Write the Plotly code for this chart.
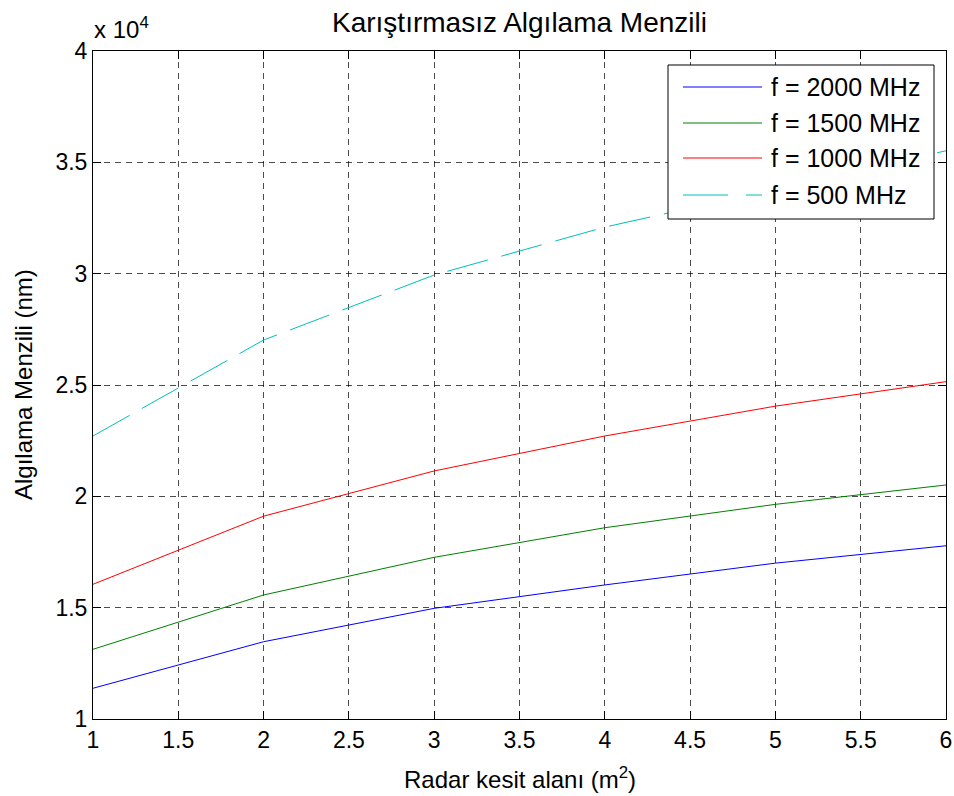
import plotly.graph_objects as go

# Radar cross-section (m^2)
rcs = [1, 2, 3, 4, 5, 6]

# Detection range (nm) for each frequency
range_2000 = [11380, 13470, 14970, 16020, 17000, 17780]
range_1500 = [13130, 15570, 17260, 18590, 19640, 20510]
range_1000 = [16050, 19110, 21140, 22710, 24050, 25150]
range_500 = [22710, 27020, 29940, 32090, 33800, 35520]

series_names = ["f = 2000 MHz", "f = 1500 MHz", "f = 1000 MHz", "f = 500 MHz"]
series_colors = ["#0000FF", "#008000", "#FF0000", "#00BFBF"]
series_dash = ["solid", "solid", "solid", "42px,14px"]
series_values = [range_2000, range_1500, range_1000, range_500]

x_ticks = [1, 1.5, 2, 2.5, 3, 3.5, 4, 4.5, 5, 5.5, 6]
y_ticks = [10000, 15000, 20000, 25000, 30000, 35000, 40000]
y_ticktext = ["1", "1.5", "2", "2.5", "3", "3.5", "4"]

FONT = "Liberation Sans, Arial, sans-serif"
W, H = 954, 796
L, R, T, B = 93, 8, 51, 77
PW, PH = W - L - R, H - T - B


def px_x(p):
    return (p - L) / PW


def px_y(p):
    return (H - B - p) / PH


fig = go.Figure()
for name, vals, col, dash in zip(series_names, series_values, series_colors, series_dash):
    fig.add_trace(go.Scatter(
        x=rcs, y=vals, mode="lines", name=name, showlegend=False,
        line=dict(color=col, width=1, dash=dash),
    ))

axis_common = dict(
    showline=True, linecolor="black", linewidth=1, mirror="ticks",
    ticks="inside", ticklen=8, tickcolor="black", tickwidth=1,
    showgrid=True, gridcolor="rgba(0,0,0,0.7)", gridwidth=1, griddash="6px,5px",
    zeroline=False, automargin=False,
    tickfont=dict(family=FONT, size=23, color="black"),
)

fig.update_xaxes(range=[1, 6], tickvals=x_ticks, ticktext=[f"{v:g}" for v in x_ticks], **axis_common)
fig.update_yaxes(range=[10000, 40000], tickvals=y_ticks, ticktext=y_ticktext, **axis_common)

# Legend box, drawn over the curves
shapes = [dict(
    type="rect", xref="paper", yref="paper",
    x0=px_x(668), x1=px_x(934), y0=px_y(219), y1=px_y(65),
    fillcolor="white", line=dict(color="black", width=1), layer="above",
)]
annotations = []
entry_y = [87, 123, 158, 195]
for name, col, dash, ey in zip(series_names, series_colors, ["solid", "solid", "solid", "45px,18px"], entry_y):
    shapes.append(dict(
        type="line", xref="paper", yref="paper",
        x0=px_x(683), x1=px_x(762), y0=px_y(ey), y1=px_y(ey),
        line=dict(color=col, width=1, dash=dash), layer="above",
    ))
    annotations.append(dict(
        text=name, xref="paper", yref="paper", x=px_x(769), y=px_y(ey),
        xanchor="left", yanchor="middle", showarrow=False,
        font=dict(family=FONT, size=25, color="black"),
    ))

# Exponent label for the y axis
annotations.append(dict(
    text="x 10<sup>4</sup>", xref="paper", yref="paper", x=px_x(92), y=px_y(28),
    xanchor="left", yanchor="middle", showarrow=False,
    font=dict(family=FONT, size=24, color="black"),
))

# Axis titles
annotations.append(dict(
    text="Radar kesit alanı (m<sup>2</sup>)", xref="paper", yref="paper",
    x=0.5, y=px_y(778), xanchor="center", yanchor="middle", showarrow=False,
    font=dict(family=FONT, size=24, color="black"),
))
annotations.append(dict(
    text="Algılama Menzili (nm)", xref="paper", yref="paper",
    x=px_x(23), y=0.5, xanchor="center", yanchor="middle", showarrow=False, textangle=-90,
    font=dict(family=FONT, size=24, color="black"),
))

fig.update_layout(
    width=W, height=H,
    margin=dict(l=L, r=R, t=T, b=B),
    paper_bgcolor="white", plot_bgcolor="white",
    title=dict(text="Karıştırmasız Algılama Menzili", x=(L + PW / 2) / W, xanchor="center",
               y=1 - 22 / H, yanchor="middle", font=dict(family=FONT, size=28, color="black")),
    shapes=shapes, annotations=annotations,
    showlegend=False,
)

fig.write_html("out.html")
